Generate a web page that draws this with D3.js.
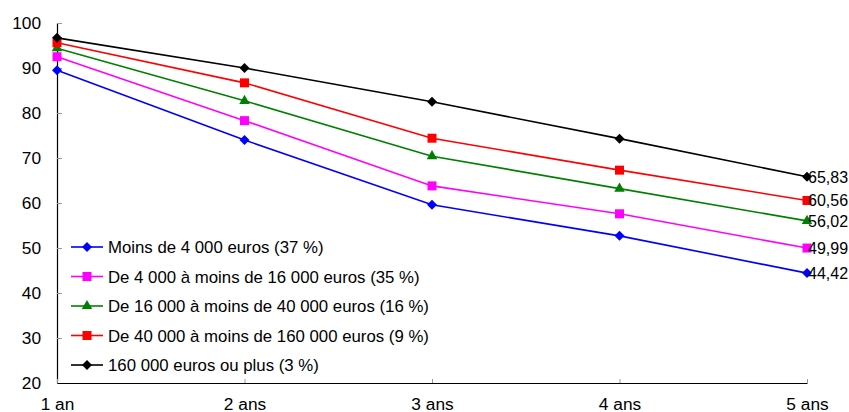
<!DOCTYPE html>
<html>
<head>
<meta charset="utf-8">
<script src="https://cdn.jsdelivr.net/npm/d3@7"></script>
<style>
  html, body { margin: 0; padding: 0; background: #fff; }
  svg { display: block; font-family: "Liberation Sans", Arial, sans-serif; }
</style>
</head>
<body>
<svg id="chart" width="849" height="412"></svg>
<script>
const categories = ["1 an", "2 ans", "3 ans", "4 ans", "5 ans"];
const seriesNames = [
  "Moins de 4 000 euros (37 %)",
  "De 4 000 à moins de 16 000 euros (35 %)",
  "De 16 000 à moins de 40 000 euros (16 %)",
  "De 40 000 à moins de 160 000 euros (9 %)",
  "160 000 euros ou plus (3 %)"
];
const moins4000 = [89.5, 74.0, 59.6, 52.7, 44.42];
const de4000a16000 = [92.5, 78.3, 63.8, 57.6, 49.99];
const de16000a40000 = [94.4, 82.7, 70.4, 63.2, 56.02];
const de40000a160000 = [95.6, 86.7, 74.4, 67.3, 60.56];
const plus160000 = [96.7, 90.0, 82.5, 74.3, 65.83];
const endLabels = ["44,42", "49,99", "56,02", "60,56", "65,83"];
const yTicks = [20, 30, 40, 50, 60, 70, 80, 90, 100];

const seriesValues = [moins4000, de4000a16000, de16000a40000, de40000a160000, plus160000];
const colors = ["#0000FF", "#FF00FF", "#008000", "#FF0000", "#000000"];
const shapes = ["diamond", "square", "triangle", "square", "diamond"];
const FONT = "'Liberation Sans', Arial, sans-serif";
const FS = 17.3;

const svg = d3.select("#chart");
const x = d3.scalePoint().domain(categories).range([57, 807]).padding(0);
const y = d3.scaleLinear().domain([20, 100]).range([383, 23]);

// Y axis
const yAxis = svg.append("g").attr("transform", "translate(57,0)")
  .call(d3.axisLeft(y).tickValues(yTicks).tickSizeInner(-5).tickSizeOuter(0).tickPadding(16).tickFormat(d3.format("d")));
yAxis.select(".domain").attr("stroke", "#000").attr("stroke-width", 1.2);
yAxis.selectAll(".tick line").attr("stroke", "#999");
yAxis.selectAll(".tick text").attr("font-size", FS).attr("fill", "#000").attr("font-family", FONT);

// X axis
const xAxis = svg.append("g").attr("transform", "translate(0,383)")
  .call(d3.axisBottom(x).tickSizeInner(-4).tickSizeOuter(0));
xAxis.select(".domain").attr("stroke", "#000").attr("stroke-width", 1.2);
xAxis.selectAll(".tick line").attr("stroke", "#999");
xAxis.selectAll(".tick text").attr("font-size", FS).attr("fill", "#000").attr("font-family", FONT)
  .attr("y", 26.5).attr("dy", 0);

function symbolPath(shape) {
  if (shape === "diamond") return d3.symbol(d3.symbolSquare, 50)();
  if (shape === "square") return d3.symbol(d3.symbolSquare, 81)();
  return d3.symbol(d3.symbolTriangle, 48)();
}
function symbolRot(shape) { return shape === "diamond" ? " rotate(45)" : ""; }

const line = d3.line().x((d, i) => x(categories[i])).y(d => y(d));

seriesValues.forEach((vals, s) => {
  const g = svg.append("g");
  g.append("path").datum(vals).attr("d", line)
    .attr("fill", "none").attr("stroke", colors[s]).attr("stroke-width", 1.6);
  g.selectAll("path.m").data(vals).enter().append("path").attr("class", "m")
    .attr("d", symbolPath(shapes[s]))
    .attr("transform", (d, i) => `translate(${x(categories[i])},${y(d)})` + symbolRot(shapes[s]))
    .attr("fill", colors[s]);
  g.append("text")
    .attr("x", x(categories[categories.length - 1]) + 1)
    .attr("y", y(vals[vals.length - 1]))
    .attr("dy", "0.36em")
    .attr("font-size", 16)
    .attr("fill", "#000")
    .text(endLabels[s]);
});

// Legend
const legend = svg.append("g");
seriesNames.forEach((name, s) => {
  const ly = 247 + s * 29.5;
  legend.append("line").attr("x1", 71).attr("x2", 103).attr("y1", ly).attr("y2", ly)
    .attr("stroke", colors[s]).attr("stroke-width", 1.6);
  legend.append("path").attr("d", symbolPath(shapes[s]))
    .attr("transform", `translate(87,${ly})` + symbolRot(shapes[s]))
    .attr("fill", colors[s]);
  legend.append("text").attr("x", 108).attr("y", ly).attr("dy", "0.36em")
    .attr("font-size", 16.8).attr("fill", "#000").text(name);
});
</script>
</body>
</html>
